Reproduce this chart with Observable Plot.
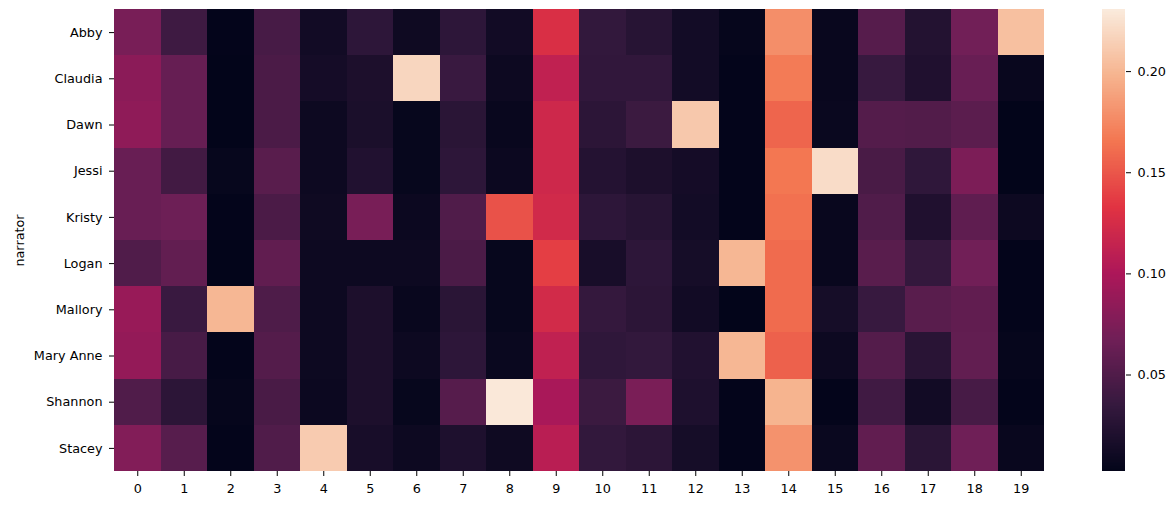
<!DOCTYPE html>
<html><head><meta charset="utf-8">
<script src="https://cdn.jsdelivr.net/npm/d3@7"></script>
<script src="https://cdn.jsdelivr.net/npm/@observablehq/plot@0.6"></script>
<style>
body{margin:0;background:#fff;}
#wrap{position:relative;width:1175px;height:505px;}
#cbar{position:absolute;left:1095px;top:0;}
</style>
</head><body><div id="wrap"><div id="main"></div><div id="cbar"></div></div>
<script>
const narrators = ["Abby","Claudia","Dawn","Jessi","Kristy","Logan","Mallory","Mary Anne","Shannon","Stacey"];
const topics = ["0","1","2","3","4","5","6","7","8","9","10","11","12","13","14","15","16","17","18","19"];
const colorbarTicks = [0.05, 0.10, 0.15, 0.20];
const colorDomain = [0.0023, 0.2307];

const abby     = [0.072,0.040,0.003,0.045,0.012,0.030,0.010,0.030,0.012,0.128,0.033,0.026,0.013,0.004,0.178,0.006,0.053,0.023,0.068,0.205];
const claudia  = [0.082,0.062,0.002,0.047,0.014,0.019,0.218,0.037,0.009,0.112,0.032,0.032,0.013,0.003,0.168,0.006,0.036,0.021,0.063,0.006];
const dawn     = [0.084,0.062,0.002,0.047,0.009,0.018,0.005,0.028,0.006,0.120,0.029,0.038,0.210,0.003,0.157,0.007,0.052,0.051,0.056,0.002];
const jessi    = [0.063,0.042,0.005,0.055,0.009,0.022,0.005,0.030,0.008,0.120,0.024,0.019,0.014,0.003,0.166,0.222,0.046,0.031,0.074,0.002];
const kristy   = [0.063,0.066,0.003,0.047,0.010,0.072,0.008,0.050,0.148,0.122,0.030,0.026,0.013,0.003,0.163,0.006,0.050,0.021,0.058,0.009];
const logan    = [0.050,0.060,0.002,0.059,0.009,0.009,0.009,0.047,0.005,0.138,0.016,0.030,0.015,0.200,0.160,0.006,0.055,0.034,0.068,0.003];
const mallory  = [0.089,0.037,0.200,0.049,0.009,0.019,0.006,0.028,0.005,0.123,0.034,0.029,0.012,0.002,0.160,0.015,0.036,0.055,0.059,0.003];
const maryAnne = [0.087,0.045,0.003,0.052,0.009,0.019,0.009,0.030,0.007,0.112,0.031,0.033,0.022,0.200,0.155,0.009,0.052,0.027,0.060,0.004];
const shannon  = [0.050,0.029,0.004,0.046,0.008,0.019,0.005,0.053,0.229,0.098,0.038,0.073,0.020,0.003,0.198,0.003,0.041,0.012,0.045,0.003];
const stacey   = [0.077,0.054,0.003,0.050,0.212,0.016,0.009,0.020,0.010,0.108,0.033,0.029,0.015,0.003,0.180,0.007,0.059,0.028,0.067,0.006];

const rows = [abby, claudia, dawn, jessi, kristy, logan, mallory, maryAnne, shannon, stacey];
const cells = [];
rows.forEach((r, i) => r.forEach((v, j) => cells.push({narrator: narrators[i], topic: topics[j], value: v})));

const rocketStops = ["#03051a","#35193e","#701f57","#ad1759","#e13342","#f37651","#f6b48f","#faebdd"];
const rocket = d3.piecewise(d3.interpolateRgb, rocketStops);

const font = {fontFamily: "'DejaVu Sans', sans-serif", fontSize: "12.8px", background: "#fff", color: "#000"};

const main = Plot.plot({
  width: 1175, height: 505,
  marginLeft: 114, marginRight: 131, marginTop: 9, marginBottom: 34,
  style: font,
  x: {type: "band", domain: topics, padding: 0, round: false, label: null, tickSize: 5, tickPadding: 7},
  y: {type: "band", domain: narrators, padding: 0, round: false, label: "narrator", labelAnchor: "center", labelOffset: 100, tickSize: 5, tickPadding: 7},
  color: {type: "linear", domain: colorDomain, interpolate: rocket},
  marks: [
    Plot.cell(cells, {x: "topic", y: "narrator", fill: "value", inset: 0, shapeRendering: "crispEdges"})
  ]
});
document.getElementById("main").appendChild(main);

const n = 300;
const slices = d3.range(n).map(i => {
  const a = colorDomain[0] + i * (colorDomain[1] - colorDomain[0]) / n;
  const b = colorDomain[0] + (i + 1) * (colorDomain[1] - colorDomain[0]) / n;
  return {a, b, v: (a + b) / 2};
});
const cbar = Plot.plot({
  width: 80, height: 505,
  marginLeft: 7, marginRight: 50, marginTop: 9, marginBottom: 34,
  style: font,
  x: {domain: [0, 1], axis: null},
  y: {domain: colorDomain, axis: "right", ticks: colorbarTicks, tickFormat: ".2f", tickSize: 5, tickPadding: 7, label: null},
  color: {type: "linear", domain: colorDomain, interpolate: rocket},
  marks: [
    Plot.rect(slices, {x1: 0, x2: 1, y1: "a", y2: "b", fill: "v", shapeRendering: "crispEdges"})
  ]
});
document.getElementById("cbar").appendChild(cbar);
</script>
</body></html>
